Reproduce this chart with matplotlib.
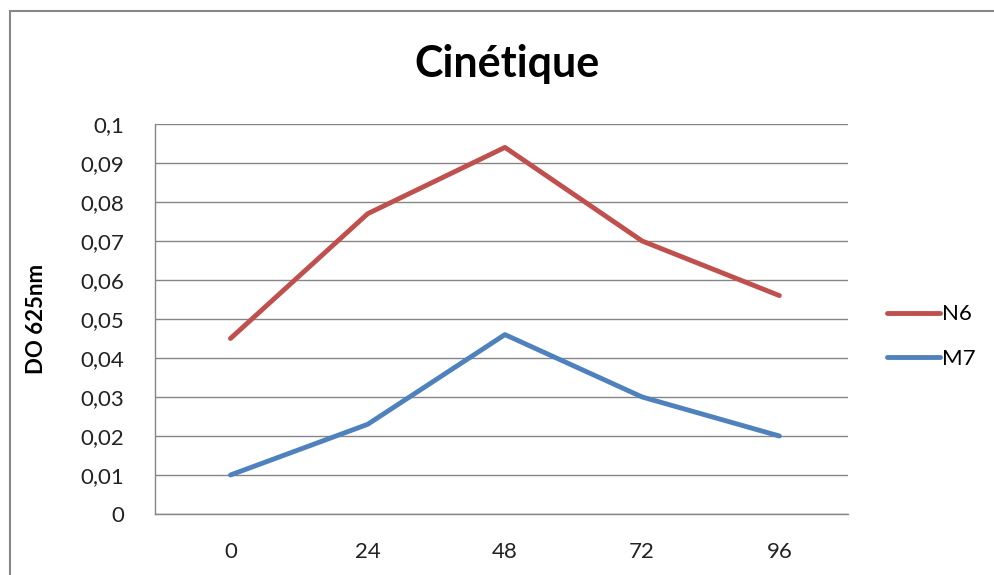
import matplotlib.pyplot as plt
from matplotlib.patches import Rectangle
from matplotlib.ticker import FuncFormatter

plt.rcParams['font.family'] = ['Lato', 'DejaVu Sans']

hours = ['0', '24', '48', '72', '96']
n6 = [0.045, 0.077, 0.094, 0.070, 0.056]
m7 = [0.010, 0.023, 0.046, 0.030, 0.020]

fig = plt.figure(figsize=(9.95, 5.75), dpi=100)
ax = fig.add_axes([155/995, 1 - 514/575, 693/995, 390/575])

x = range(len(hours))
ax.plot(x, n6, color='#c0504d', lw=3.5, label='N6', solid_capstyle='round')
ax.plot(x, m7, color='#4f81bd', lw=3.5, label='M7', solid_capstyle='round')

ax.set_xlim(-0.55, 4.5)
ax.set_ylim(0, 0.1)
ax.set_yticks([i / 100 for i in range(11)])
ax.yaxis.set_major_formatter(FuncFormatter(
    lambda v, p: '0' if v == 0 else ('%g' % round(v, 2)).replace('.', ',')))
ax.set_xticks(list(x))
ax.set_xticklabels(hours)
ax.tick_params(length=0, labelsize=16, colors='#222222')
ax.tick_params(axis='x', pad=20)
ax.tick_params(axis='y', pad=22)
ax.grid(axis='y', color='#868686', lw=1)
ax.set_axisbelow(True)
for s in ['top', 'right']:
    ax.spines[s].set_visible(False)
for s in ['left', 'bottom']:
    ax.spines[s].set_color('#868686')
    ax.spines[s].set_linewidth(1)

ax.set_ylabel('DO 625nm', fontsize=16, fontweight='bold', labelpad=24)
fig.text(0.51, 1 - 64/575, 'Cinétique', ha='center', va='center',
         fontsize=31, fontweight='bold')

ax.legend(loc='center left', bbox_to_anchor=(1.056, 0.455), frameon=False,
          fontsize=16, handlelength=2.4, handletextpad=0.1, labelspacing=1.1,
          borderaxespad=0, borderpad=0)

fig.patches.append(Rectangle((10/995, -0.1), 1.2, 1 - 11/575 + 0.1,
                             transform=fig.transFigure, fill=False,
                             edgecolor='#888888', lw=1.5))

fig.savefig('out.png', dpi=100)
